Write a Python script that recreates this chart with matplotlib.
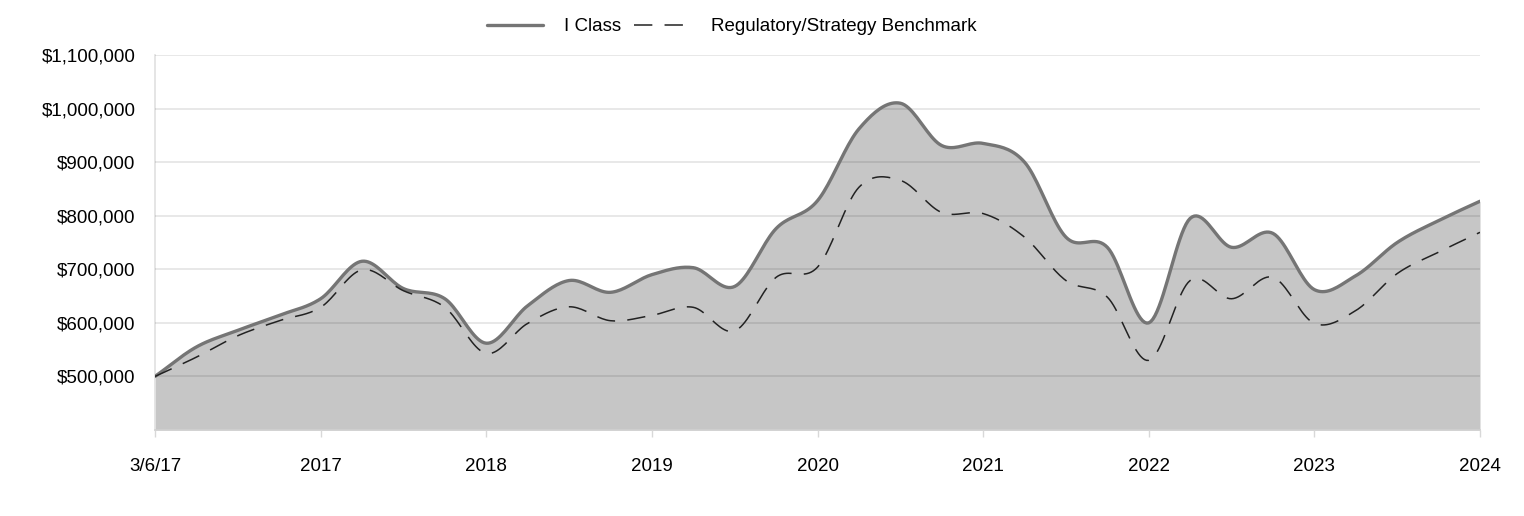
import numpy as np
import matplotlib
matplotlib.use("Agg")
import matplotlib.pyplot as plt
from matplotlib.ticker import FuncFormatter

plt.rcParams['font.family'] = ['Liberation Sans', 'DejaVu Sans']

# x tick labels (quarterly data, 4 points between labels)
tick_labels = ['3/6/17', '2017', '2018', '2019', '2020', '2021', '2022', '2023', '2024']

i_class = [500000, 555000, 586000, 614000, 645000, 715000, 664000, 645000,
           562000, 632000, 679000, 657000, 690000, 703000, 668000, 776000,
           828000, 962000, 1010000, 931000, 935000, 900000, 760000, 741000,
           600000, 795000, 741000, 767000, 662000, 688000, 750000, 791000,
           827000]

benchmark = [500000, 536000, 576000, 604000, 629000, 699000, 660000, 629000,
             543000, 599000, 630000, 604000, 614000, 629000, 585000, 685000,
             704000, 853000, 866000, 806000, 804000, 760000, 679000, 648000,
             530000, 679000, 645000, 685000, 599000, 623000, 692000, 732000,
             769000]


def smooth(y, steps=20):
    # catmull-rom through the points, roughly what the source chart does
    y = np.asarray(y, dtype=float)
    p = np.concatenate([[2 * y[0] - y[1]], y, [2 * y[-1] - y[-2]]])
    xs, ys = [], []
    t = np.linspace(0, 1, steps, endpoint=False)
    for i in range(1, len(p) - 2):
        p0, p1, p2, p3 = p[i - 1], p[i], p[i + 1], p[i + 2]
        seg = 0.5 * ((2 * p1) + (-p0 + p2) * t + (2 * p0 - 5 * p1 + 4 * p2 - p3) * t ** 2
                     + (-p0 + 3 * p1 - 3 * p2 + p3) * t ** 3)
        xs.extend(i - 1 + t)
        ys.extend(seg)
    xs.append(len(y) - 1)
    ys.append(y[-1])
    return np.array(xs), np.array(ys)


fig = plt.figure(figsize=(15.24, 5.16), dpi=100)
ax = fig.add_axes([155 / 1524, 1 - 430 / 516, 1325 / 1524, 375 / 516])

xi, yi = smooth(i_class)
xb, yb = smooth(benchmark)

ax.fill_between(xi, yi, 400000, color='#c6c6c6', zorder=1, linewidth=0)
ax.plot(xi, yi, color='#757575', linewidth=2.4, zorder=3, label='I Class',
        solid_capstyle='round')
ax.plot(xb, yb, color='#222222', linewidth=1.1, zorder=4, dashes=(12, 8),
        label='Regulatory/Strategy Benchmark')

ax.set_xlim(0, len(i_class) - 1)
ax.set_ylim(400000, 1100000)
ax.set_yticks(np.arange(500000, 1100001, 100000))
ax.yaxis.set_major_formatter(FuncFormatter(lambda v, p: f"${v:,.0f}"))
ax.set_xticks(np.arange(0, len(i_class), 4))
ax.set_xticklabels(tick_labels)

ax.grid(axis='y', color='black', alpha=0.11, linewidth=1.2, zorder=2)
ax.set_axisbelow(False)
for s in ['top', 'right']:
    ax.spines[s].set_visible(False)
ax.spines['left'].set_color('#e0e0e0')
ax.spines['bottom'].set_color('#d0d0d0')
ax.spines['left'].set_linewidth(1.2)
ax.spines['bottom'].set_linewidth(1.2)
ax.tick_params(axis='y', length=0, pad=14, labelsize=13.5, colors='black')
ax.tick_params(axis='x', length=5, width=1, color='#d8d8d8', pad=15, labelsize=13.5)

ax.legend(loc='center', bbox_to_anchor=(0.4355, 1.075), ncol=2, frameon=False,
          fontsize=13.5, handlelength=3.0, columnspacing=0.7, handletextpad=1.1,
          borderaxespad=0)

fig.savefig('out.png', dpi=100)
